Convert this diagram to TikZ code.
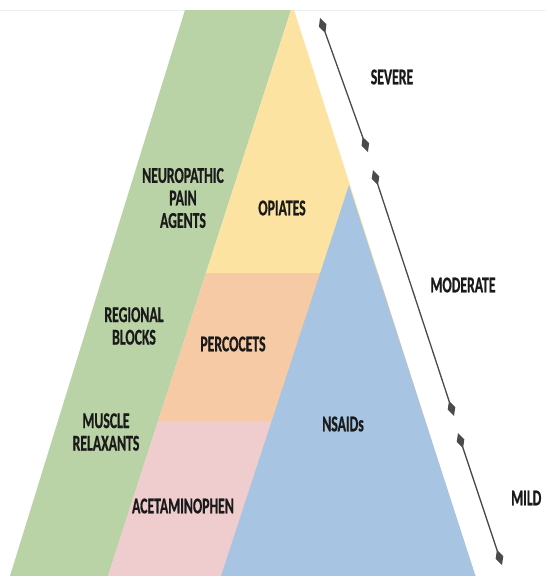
\documentclass[tikz,border=0pt]{standalone}
\usepackage{fontspec}
\newfontfamily\lab{Carlito}[FakeStretch=0.61,FakeBold=0.7]
\usetikzlibrary{arrows.meta}
\definecolor{cgreen}{HTML}{B9D3A6}
\definecolor{cyellow}{HTML}{FCE3A2}
\definecolor{corange}{HTML}{F6CAA4}
\definecolor{cpink}{HTML}{EFCCCD}
\definecolor{cblue}{HTML}{A7C4E3}
\definecolor{carrow}{HTML}{4A4A4A}
\definecolor{ctext}{HTML}{1A1A1A}
\begin{document}
\begin{tikzpicture}[x=1pt,y=-1pt,
  lbl/.style={font=\lab\bfseries\fontsize{22.5}{22.5}\selectfont, text=ctext, inner sep=0pt, align=center},
  rng/.style={draw=carrow, line width=1.3pt, {Diamond[length=16pt,width=8pt]}-{Diamond[length=16pt,width=8pt]}}]
\useasboundingbox (0,0) rectangle (546,576);
\fill[white] (0,0) rectangle (546,576);
\draw[draw=black!6, line width=0.8pt] (0,10) -- (546,10);
% green band
\fill[cgreen]  (185,10) -- (291,10) -- (108,576) -- (10,576) -- cycle;
% triangle bands
\begin{scope}
  \clip (291,10) -- (294,10) -- (475,576) -- (108,576) -- cycle;
  \fill[cyellow] (100,0) rectangle (500,273);
  \fill[corange] (100,273) rectangle (500,421);
  \fill[cpink]   (100,421) rectangle (500,577);
\end{scope}
\fill[cblue]   (349,185) -- (475.5,576) -- (221,576) -- cycle;
% labels
\node[lbl] (neuro) at (183,198) {NEUROPATHIC\\PAIN\\AGENTS};
\node[lbl] (opi) at (282,208) {OPIATES};
\node[lbl] (reg) at (134,326) {REGIONAL\\BLOCKS};
\node[lbl] (perc) at (233,344) {PERCOCETS};
\node[lbl] (musc) at (106,432) {MUSCLE\\RELAXANTS};
\node[lbl] (acet) at (183,506) {ACETAMINOPHEN};
\node[lbl] (nsaid) at (343,424) {NSAIDs};
\node[lbl] (sev) at (392,77) {SEVERE};
\node[lbl] (mod) at (463,285) {MODERATE};
\node[lbl, anchor=west] (mild) at (511,498) {MILD};
% ranges
\coordinate (s1) at (320,18);
\coordinate (s2) at (368,152);
\coordinate (m1) at (373,170);
\coordinate (m2) at (454,416);
\coordinate (d1) at (458,433);
\coordinate (d2) at (502,565);
\draw[rng] (s1) -- (s2);
\draw[rng] (m1) -- (m2);
\draw[rng] (d1) -- (d2);
\end{tikzpicture}
\end{document}
